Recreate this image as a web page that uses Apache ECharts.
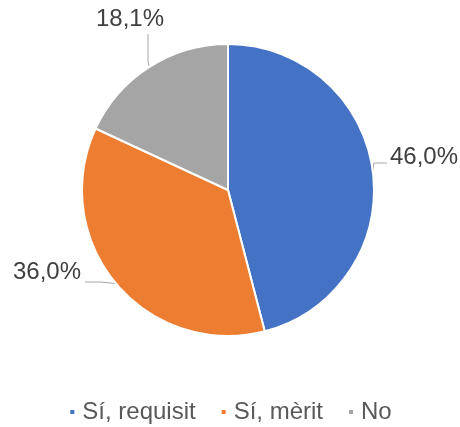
<!DOCTYPE html>
<html>
<head>
<meta charset="utf-8">
<script src="https://cdn.jsdelivr.net/npm/echarts@6/dist/echarts.min.js"></script>
<style>
html, body { margin: 0; padding: 0; background: #fff; }
#chart { width: 460px; height: 427px; }
</style>
</head>
<body>
<div id="chart"></div>
<script>
// dades
var categories = ['Sí, requisit', 'Sí, mèrit', 'No'];
var values = [46.0, 36.0, 18.1];
var colors = ['#4472C4', '#ED7D31', '#A5A5A5'];

var myChart = echarts.init(document.getElementById('chart'));
var option = {
    animation: false,
    color: colors,
    legend: {
        top: 395,
        left: 'center',
        icon: 'rect',
        itemWidth: 6,
        itemHeight: 6,
        itemGap: 24,
        textStyle: {
            fontFamily: 'Liberation Sans, Arial',
            fontSize: 24,
            color: '#595959',
            padding: [0, 0, 0, 2]
        },
        data: categories
    },
    series: [{
        type: 'pie',
        center: [228, 190],
        radius: 146,
        startAngle: 90,
        clockwise: true,
        itemStyle: {
            borderColor: '#fff',
            borderWidth: 2
        },
        label: {
            show: true,
            position: 'outside',
            overflow: 'none',
            fontFamily: 'Liberation Sans, Arial',
            fontSize: 24,
            color: '#404040',
            formatter: function (p) {
                return p.value.toFixed(1).replace('.', ',') + '%';
            }
        },
        labelLine: {
            show: true,
            length: 10,
            length2: 8,
            lineStyle: { color: '#A6A6A6', width: 1 }
        },
        labelLayout: function (params) {
            var p0 = params.labelLinePoints ? params.labelLinePoints[0] : null;
            if (params.dataIndex === 0) {
                return { x: 390, y: 157, align: 'left', verticalAlign: 'middle',
                    labelLinePoints: p0 ? [p0, [p0[0] + 1, 163], [387, 163]] : undefined };
            }
            if (params.dataIndex === 1) {
                return { x: 81, y: 272, align: 'right', verticalAlign: 'middle',
                    labelLinePoints: p0 ? [p0, [101, 282], [85, 282]] : undefined };
            }
            return { x: 130, y: 19, align: 'center', verticalAlign: 'middle',
                labelLinePoints: p0 ? [p0, [148, 62], [148, 34]] : undefined };
        },
        data: categories.map(function (c, i) {
            return { name: c, value: values[i] };
        })
    }]
};
myChart.setOption(option);
</script>
</body>
</html>
